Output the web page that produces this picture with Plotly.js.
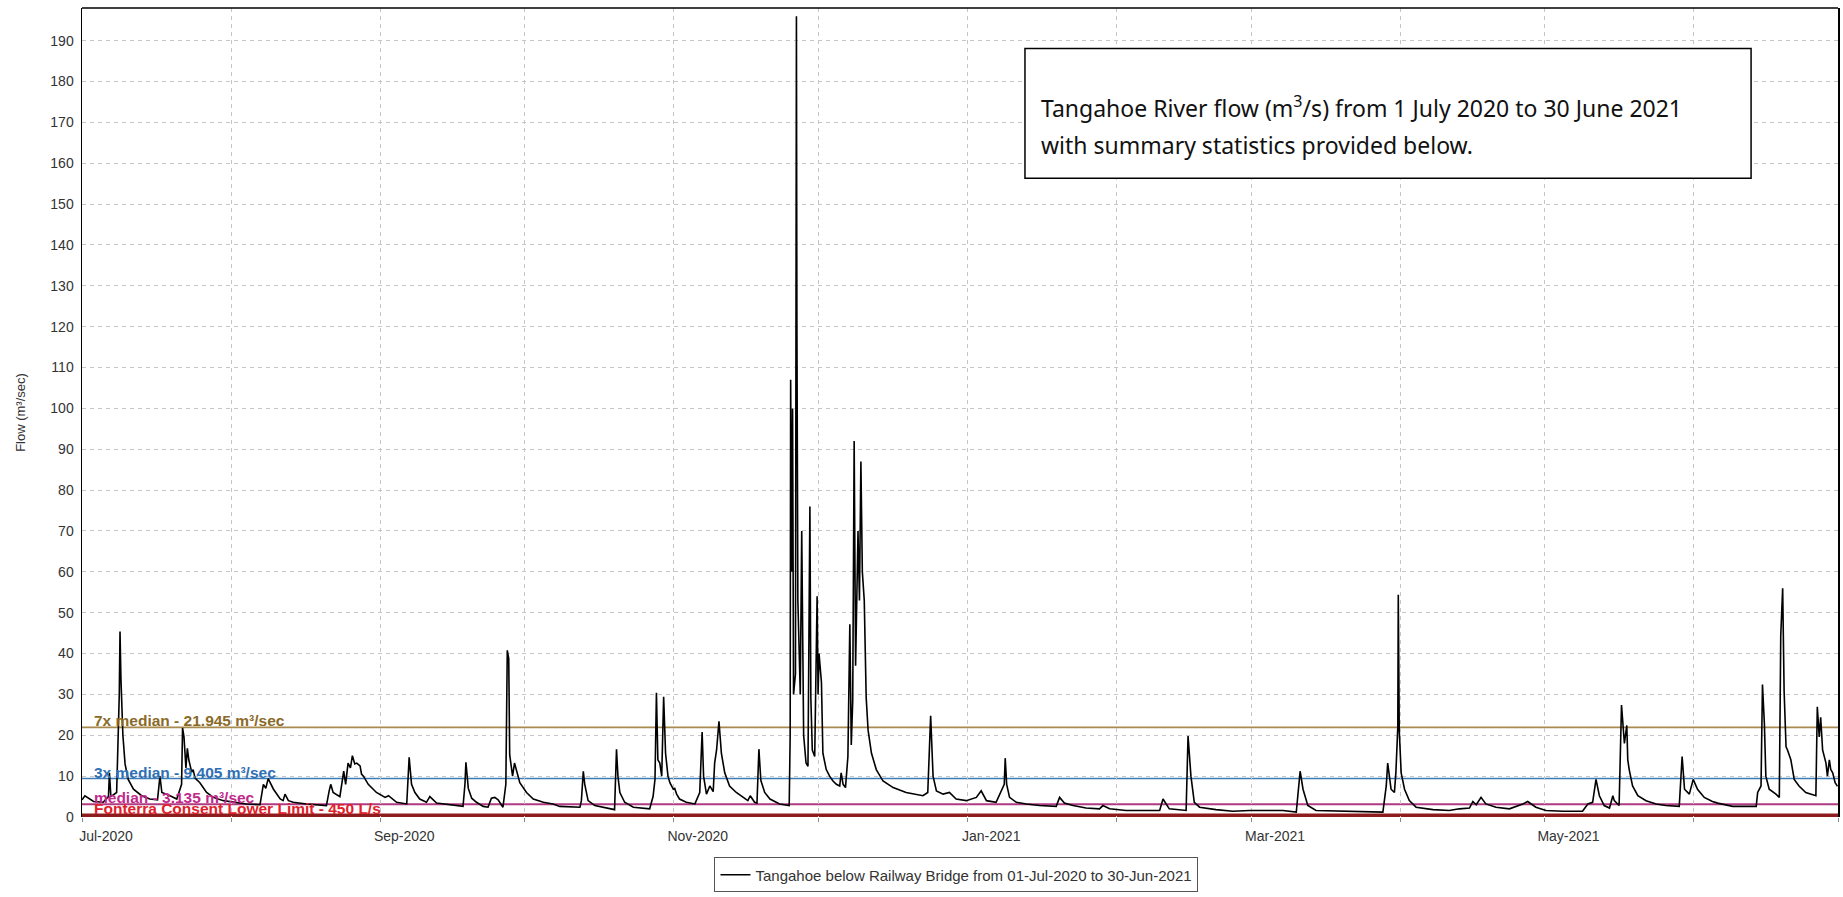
<!DOCTYPE html>
<html>
<head>
<meta charset="utf-8">
<script src="https://cdn.plot.ly/plotly-3.0.1.min.js"></script>
<style>
  html, body { margin: 0; padding: 0; background: #ffffff; }
  #chart { width: 1843px; height: 897px; }
</style>
</head>
<body>
<div id="chart"></div>
<script>
// ---- Data ----
// days after 1 July 2020
const days = [
  0, 0.6, 2.4, 4.4, 5.5, 5.7, 6.0, 7.2, 7.75, 7.9, 8.1, 8.5, 8.95, 9.6, 10.7, 12.4, 14.1, 15.7, 16.2, 16.6,
  18.3, 19.7, 20.7, 20.9, 21.2, 21.6, 21.9, 22.2, 22.8, 23.1, 23.5, 24.5, 25.9, 27.3, 29.4, 31.5, 34.2, 37.0,
  37.7, 38.2, 38.7, 39.8, 41.2, 41.8, 42.2, 42.9, 43.9, 46.7, 50.8, 51.4, 51.7, 52.2, 53.6, 54.4, 54.8, 55.3,
  55.8, 56.2, 56.7, 57.1, 57.8, 58.1, 58.5, 59.5, 61.2, 63.0, 63.7, 65.4, 67.5, 68.0, 68.5, 69.2, 70.2, 71.6,
  72.3, 73.7, 77.2, 79.2, 79.6, 79.8, 80.3, 81.0, 82.0, 83.4, 84.4, 85.1, 85.8, 86.5, 87.5, 88.1, 88.4, 88.7,
  88.9, 89.5, 89.9, 90.3, 91.0, 92.4, 93.8, 95.9, 97.9, 99.3, 103.5, 103.8, 104.2, 104.5, 105.2, 106.6, 109.0,
  110.7, 111.1, 111.4, 111.8, 112.8, 114.6, 118.0, 118.7, 119.1, 119.4, 119.7, 120.1, 120.5, 120.9, 121.3,
  121.8, 122.2, 122.9, 123.2, 123.6, 124.2, 125.6, 127.4, 128.4, 128.9, 129.2, 129.8, 130.5, 131.2, 131.5,
  131.9, 132.4, 132.7, 132.9, 133.6, 134.6, 136.0, 137.4, 138.4, 138.9, 139.8, 140.3, 140.7, 141.1, 141.9,
  143.0, 145.0, 147.0, 147.2, 147.3, 147.5, 147.7, 147.9, 148.3, 148.5, 148.6, 148.8, 149.3, 149.6, 150.0,
  150.5, 150.9, 151.3, 151.5, 151.8, 152.3, 152.8, 153.0, 153.2, 153.7, 154.0, 154.7, 155.4, 156.1, 156.8,
  157.5, 157.8, 158.2, 158.7, 159.2, 159.6, 159.9, 160.2, 160.5, 160.8, 161.3, 161.6, 161.9, 162.2, 162.6,
  163.0, 163.4, 164.1, 165.1, 166.5, 168.6, 171.3, 174.8, 175.8, 176.4, 176.9, 177.6, 179.0, 180.3, 181.7,
  183.8, 185.9, 186.9, 188.0, 190.0, 191.7, 191.9, 192.2, 192.8, 194.2, 196.3, 199.0, 202.5, 203.2, 204.2,
  206.0, 208.7, 211.5, 212.2, 213.6, 217.0, 224.0, 224.7, 226.0, 229.5, 229.9, 230.2, 230.5, 231.2, 232.3,
  235.7, 239.2, 242.7, 249.6, 252.4, 253.2, 253.8, 254.8, 256.5, 263.4, 270.4, 271.1, 271.4, 272.1, 272.8,
  273.1, 273.5, 273.6, 273.8, 274.2, 274.9, 275.9, 277.3, 280.8, 284.2, 286.3, 288.4, 289.1, 289.8, 290.8,
  291.8, 293.9, 296.7, 299.5, 300.5, 302.2, 304.3, 307.8, 311.9, 313.0, 314.0, 314.7, 315.4, 316.4, 317.5,
  318.2, 318.5, 319.5, 320.0, 320.6, 321.1, 321.3, 321.6, 322.3, 323.4, 325.1, 327.2, 329.2, 332.0, 332.6,
  333.1, 334.1, 334.9, 335.8, 337.2, 338.9, 340.0, 343.1, 348.0, 348.3, 349.0, 349.3, 349.7, 350.0, 350.7,
  352.1, 352.8, 353.1, 353.5, 353.8, 354.2, 354.5, 355.2, 355.9, 356.9, 358.3, 360.4, 360.7, 361.1, 361.4,
  361.8, 362.5, 362.8, 363.2, 363.5, 363.9, 364.4, 364.9
];
// flow in m3/s
const flow = [
  4.2, 5.2, 3.8, 3.6, 5, 10.8, 5, 6, 30, 45.4, 33.6, 20, 13, 9.2, 6.8, 5.2, 4.4, 4.2, 10, 6,
  5.2, 4.4, 8, 21.8, 19.6, 12, 16.8, 14, 11, 11.6, 9.5, 8.4, 6, 4.8, 4, 3.6, 3.2, 3.0,
  8, 7, 9.4, 6.8, 4.4, 4, 5.6, 4, 3.6, 3.2, 2.8, 6.5, 8, 6, 5, 11.2, 8, 13.2,
  12, 15, 13, 13.2, 12.5, 10.5, 10, 8, 6, 4.8, 5.2, 3.6, 3.2, 14.6, 8, 6, 4.4, 3.6,
  5, 3.4, 2.8, 2.6, 8, 13.4, 7, 4.6, 3.6, 2.6, 2.4, 4.6, 4.8, 4.2, 2.4, 8, 40.8, 38.8,
  15.2, 10, 13.2, 11.6, 8.4, 6, 4.4, 3.6, 3.2, 2.6, 2.4, 4, 11.2, 8, 4, 2.8, 2.2,
  1.8, 16.6, 10, 6, 3.6, 2.4, 2.0, 5, 9.2, 30.4, 14, 13.2, 10, 29.4, 15.6,
  10, 8.4, 6.8, 7, 5.6, 4.4, 3.6, 3.2, 6, 20.8, 10, 5.6, 7.6, 6.2, 13.2,
  16.4, 23.4, 19.6, 15.6, 10.8, 7.6, 6, 4.8, 4, 5.2, 3.6, 3.4, 16.6, 9, 6,
  4.4, 3.2, 2.8, 20, 107, 60, 100, 30, 35, 196, 120, 53, 30, 70, 20,
  13.2, 12.4, 76, 29, 16.4, 14.8, 54, 30, 40, 33, 15.6, 11.6, 10, 8.8, 8,
  7.6, 10.8, 8, 7.2, 14.8, 47.2, 17.6, 28.4, 92, 37, 70, 53, 87, 60, 53,
  29.2, 21.2, 15.6, 11.6, 8.8, 7.2, 6, 5.2, 6, 24.8, 10, 6.4, 5.6, 6, 4.4,
  4, 4.8, 6.4, 4, 3.6, 8, 14.4, 8, 4.8, 3.6, 3.2, 2.8, 2.6, 4.8, 3.4,
  2.8, 2.2, 2.0, 2.8, 2.0, 1.6, 1.6, 4.4, 2.0, 1.6, 19.8, 15, 10, 3.6, 2.4,
  1.8, 1.4, 1.6, 1.6, 1.2, 11.2, 6.8, 2.8, 1.6, 1.4, 1.2, 7.6, 13.2, 6.8, 6,
  10.8, 22, 54.4, 21.2, 10.8, 6.8, 4, 2.4, 1.8, 1.6, 2.0, 2.2, 3.8, 3, 4.8,
  3.2, 2.4, 2.0, 3.2, 3.8, 2.4, 1.6, 1.4, 1.4, 3.2, 3.6, 9.2, 5.2, 2.8, 2.2,
  5.2, 4, 2.8, 27.4, 18, 22.4, 14, 11.6, 7.6, 5.2, 4, 3.2, 2.8, 2.6, 14.8,
  6.8, 5.6, 9.2, 6.8, 4.8, 3.8, 3.4, 2.6, 2.6, 6, 7.6, 32.4, 22.8, 10, 6.8,
  5.6, 4.8, 44.4, 56, 30.8, 17.2, 16.4, 14, 9.2, 7.6, 6, 5.2, 27, 19.6, 24.4,
  16.4, 13.2, 10, 14, 11.6, 10.8, 8.4, 7.5
];

const labelTicks = ['2020-07-01','2020-09-01','2020-11-01','2021-01-01','2021-03-01','2021-05-01'];
const labelTexts = ['Jul-2020','Sep-2020','Nov-2020','Jan-2021','Mar-2021','May-2021'];

const refValues = [21.945, 9.405, 3.135, 0.45];
const refLabels = ['7x median - 21.945 m\u00b3/sec', '3x median - 9.405 m\u00b3/sec',
                   'median - 3.135 m\u00b3/sec', 'Fonterra Consent Lower Limit - 450 L/s'];
const refLineColors = ['#a8894e', '#3b7bb8', '#b03a82', '#8e1c1c'];
const refTextColors = ['#8a6a28', '#2f6fb4', '#c02a8c', '#e0202a'];
const refLineWidths = [1.6, 1.6, 2, 3.5];

const seriesName = 'Tangahoe below Railway Bridge from 01-Jul-2020 to 30-Jun-2021';
const noteLines = ['Tangahoe River flow (m<sup>3</sup>/s) from 1 July 2020 to 30 June 2021',
                   'with summary statistics provided below.'];

// ---- Build x dates from day offsets ----
function dayToDate(d) {
  const t = Date.UTC(2020, 6, 1) + d * 86400000;
  return new Date(t).toISOString().slice(0, 19).replace('T', ' ');
}
const dates = days.map(dayToDate);

const traces = [{
  type: 'scatter', mode: 'lines',
  x: dates, y: flow,
  name: seriesName,
  line: { color: '#000000', width: 1.6 },
  hoverinfo: 'x+y'
}];

const shapes = refValues.map((v, i) => ({
  type: 'line', xref: 'paper', x0: 0, x1: 1, yref: 'y', y0: v, y1: v,
  line: { color: refLineColors[i], width: refLineWidths[i] },
  layer: 'below'
}));
// top frame line
shapes.push({ type: 'line', xref: 'paper', x0: 0, x1: 1, yref: 'paper', y0: 1, y1: 1,
  line: { color: '#000000', width: 1.5 }, layer: 'above' });
// note box
shapes.push({ type: 'rect', xref: 'paper', x0: 0.537, x1: 0.9505, yref: 'paper', y0: 0.7897, y1: 0.9499,
  line: { color: '#000000', width: 1.5 }, fillcolor: '#ffffff', layer: 'above' });

const annotations = refValues.map((v, i) => ({
  xref: 'paper', x: 0.0055, xanchor: 'left',
  yref: 'y', y: v, yanchor: 'bottom', yshift: -4,
  text: refLabels[i], showarrow: false,
  font: { family: 'Liberation Sans, Arial, sans-serif', size: 15.5, color: refTextColors[i], weight: 'bold' }
}));

const noteY = [0.8778, 0.8301];
noteLines.forEach((t, i) => annotations.push({
  xref: 'paper', x: 0.545, xanchor: 'left',
  yref: 'paper', y: noteY[i], yanchor: 'middle',
  showarrow: false, align: 'left', text: t,
  font: { family: 'Noto Sans, Open Sans, sans-serif', size: 23, color: '#111111' }
}));

const gridStyle = { gridcolor: '#c6c6c6', griddash: '4px,4px', gridwidth: 1 };

const layout = {
  width: 1843, height: 897,
  margin: { l: 82, r: 5, t: 8, b: 71 },
  paper_bgcolor: '#ffffff', plot_bgcolor: '#ffffff',
  showlegend: true,
  font: { family: 'Liberation Sans, Arial, sans-serif', size: 14, color: '#222222' },
  xaxis: Object.assign({
    type: 'date',
    range: ['2020-07-01', '2021-07-01'],
    tickvals: labelTicks, ticktext: labelTexts,
    ticks: 'outside', ticklen: 4, tickcolor: '#888888',
    ticklabelshift: 24, ticklabelstandoff: 2,
    showgrid: true,
    minor: { dtick: 'M1', tick0: '2020-07-01', showgrid: true, gridcolor: '#c6c6c6', griddash: '4px,4px',
             gridwidth: 1, ticks: 'outside', ticklen: 4, tickcolor: '#888888' },
    showline: false,
    zeroline: false,
    tickfont: { size: 14, color: '#333333' }
  }, gridStyle),
  yaxis: Object.assign({
    range: [0.0, 198],
    dtick: 10, tick0: 0,
    ticks: '', ticklabelstandoff: 4,
    showgrid: true,
    showline: true, linecolor: '#000000', linewidth: 1.5, mirror: true,
    zeroline: false,
    tickfont: { size: 14, color: '#333333' },
    title: { text: 'Flow (m\u00b3/sec)', standoff: 22, font: { size: 13, color: '#333333' } }
  }, gridStyle),
  legend: {
    orientation: 'h', x: 0.498, xanchor: 'center', y: -0.05, yanchor: 'top',
    bordercolor: '#555555', borderwidth: 1, bgcolor: '#ffffff', itemwidth: 30,
    font: { size: 15, color: '#333333' }
  },
  shapes: shapes,
  annotations: annotations
};

Plotly.newPlot('chart', traces, layout, { displayModeBar: false, staticPlot: true });
</script>
</body>
</html>
